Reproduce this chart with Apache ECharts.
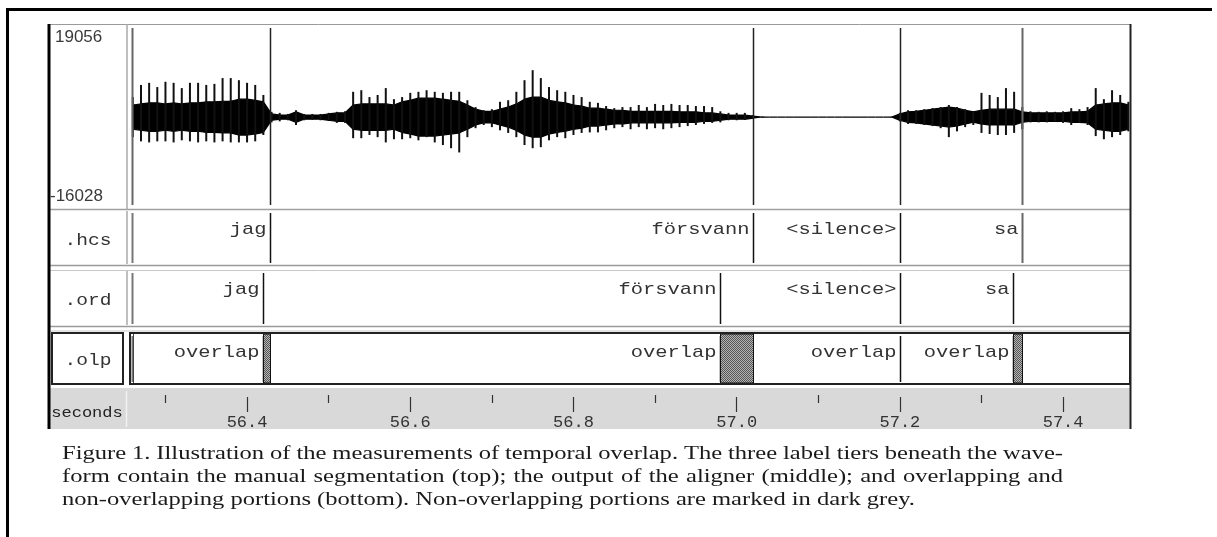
<!DOCTYPE html>
<html><head><meta charset="utf-8">
<script src="https://cdn.jsdelivr.net/npm/echarts@6/dist/echarts.min.js"></script>
<style>html,body{margin:0;padding:0;background:#fff}#c{width:1217px;height:537px}</style>
</head><body><div id="c"></div>
<script>
// ================= DATA =================
const T_MIN = 56.259, T_MAX = 57.482;          // visible time range (s)
const AMP_MAX = 19056, AMP_MIN = -16028;        // amplitude range of waveform pane
const ampLabels = ['19056', '-16028'];
const BASELINE = 1400;                          // waveform centre line (DC offset)
const SAMPLE_START = 56.26, SAMPLE_STEP = 0.01; // envelope sampling grid (s)

// positive peak excursion above baseline
const peakUp = [3800,6100,6500,5700,6700,6500,5500,6500,6500,6100,
  6300,7400,7400,7000,6500,6100,4200,1000,800,600,
  1300,600,600,600,800,1000,1100,4800,5100,3800,
  4200,5500,3400,3800,4600,4800,5100,4800,4600,4800,
  4800,3200,1900,1300,1500,2900,3200,4800,7000,8900,
  7400,5700,5100,4800,4200,3800,2900,2700,2100,1700,
  1900,1900,2300,1900,2500,2300,2500,2300,2300,2100,
  2100,1900,1100,800,800,800,400,
  0,0,0,0,0,0,0,0,0,0,0,0,0,0,0,0,0,
  800,1300,1300,1500,1700,1900,2300,1900,1500,1100,
  4600,4200,3800,5500,4800,1900,1100,1000,1100,1000,
  1100,1700,1500,1900,5500,3400,5100,4200,2900];
// negative peak excursion below baseline
const peakDown = [3800,4600,4800,4600,4600,4800,4400,4600,4800,4600,
  4800,4600,4800,4800,4800,4600,3400,1000,800,600,
  1500,600,400,600,600,1100,1100,4000,4000,3400,
  3800,4800,4200,4200,4000,4400,3800,4800,5300,5900,
  6700,3800,2100,1500,1900,2500,3000,3800,5300,5900,
  5700,4400,3800,4000,3400,3000,2900,2900,2500,2100,
  1900,2300,1900,2300,2100,2300,2100,1900,1700,1500,
  1300,1100,1000,600,600,400,200,
  0,0,0,0,0,0,0,0,0,0,0,0,0,0,0,0,0,
  800,1300,1300,1500,1700,2100,3800,2700,1900,1500,
  3000,3200,3400,3400,3000,2300,1000,1000,1000,800,
  1100,1500,1100,1500,3600,4200,3800,3400,2700];
// dense body half-amplitude
const bodyAmp = [2300,2500,2700,2700,2500,2700,2500,2700,2700,2900,
  2900,3000,3000,3400,3400,3200,2900,600,400,400,
  1000,400,400,400,600,800,800,2300,2500,2500,
  2500,2500,2300,2900,3200,3600,3600,3600,3400,3200,
  3000,2300,1500,1100,1100,1500,1900,2500,3400,3800,
  3800,3200,2900,2700,2300,2100,1700,1700,1500,1300,
  1300,1100,1100,1100,1100,1100,1100,1000,1000,1000,
  800,800,600,400,400,400,200,
  0,0,0,0,0,0,0,0,0,0,0,0,0,0,0,0,0,
  600,1000,1100,1300,1500,1700,1900,1700,1300,1000,
  1300,1500,1500,1500,1500,1000,800,800,800,800,
  800,1000,1000,1100,2300,2500,2700,2700,2300];

// segment boundaries (s)
const waveMarks = [56.259, 56.428, 57.020, 57.200, 57.350];
const tierNames = ['.hcs', '.ord', '.olp'];
const hcsLabels = ['jag', 'försvann', '<silence>', 'sa'];
const hcsStarts = [56.259, 56.428, 57.020, 57.200];
const hcsEnds   = [56.428, 57.020, 57.200, 57.350];
const ordLabels = ['jag', 'försvann', '<silence>', 'sa'];
const ordStarts = [56.259, 56.420, 56.980, 57.200];
const ordEnds   = [56.420, 56.980, 57.200, 57.339];
const olpLabels = ['overlap', 'overlap', 'overlap', 'overlap'];
const olpStarts = [56.259, 56.428, 57.020, 57.200];
const olpEnds   = [56.420, 56.980, 57.200, 57.339];
const gapStarts = [56.420, 56.980, 57.339];     // non-overlapping portions
const gapEnds   = [56.428, 57.020, 57.350];

const majorTicks = [56.4, 56.6, 56.8, 57.0, 57.2, 57.4];
const tickLabels = ['56.4', '56.6', '56.8', '57.0', '57.2', '57.4'];
const minorTicks = [56.3, 56.5, 56.7, 56.9, 57.1, 57.3];
const axisName = 'seconds';

const captionLines = [
  'Figure 1. Illustration of the measurements of temporal overlap. The three label tiers beneath the wave-',
  'form contain the manual segmentation (top); the output of the aligner (middle); and overlapping and',
  'non-overlapping portions (bottom). Non-overlapping portions are marked in dark grey.'
];

// ================= CHART =================
const chart = echarts.init(document.getElementById('c'), null, {renderer: 'canvas', width: 1217, height: 537});
const MONO = '"Liberation Mono", "DejaVu Sans Mono", monospace';
const SERIF = '"Liberation Serif", "DejaVu Serif", serif';

// dither pattern for grey boxes
const pat = document.createElement('canvas');
pat.width = 2; pat.height = 2;
(function () {
  const c = pat.getContext('2d');
  c.fillStyle = '#b4b4b4'; c.fillRect(0, 0, 2, 2);
  c.fillStyle = '#555'; c.fillRect(0, 0, 1, 1); c.fillRect(1, 1, 1, 1);
})();

const waveData = peakUp.map((u, i) => [SAMPLE_START + i * SAMPLE_STEP, BASELINE + u, BASELINE - peakDown[i], BASELINE + bodyAmp[i], BASELINE - bodyAmp[i]]);

const grids = [
  {left: 132, top: 24, width: 998, height: 185},
  {left: 132, top: 210, width: 998, height: 55},
  {left: 132, top: 270, width: 998, height: 56},
  {left: 132, top: 333, width: 998, height: 51},
  {left: 132, top: 397, width: 998, height: 32},
  {left: 132, top: 395, width: 998, height: 34}
];

const xAxes = grids.slice(0, 4).map((g, k) => ({gridIndex: k, type: 'value', min: T_MIN, max: T_MAX, show: false}));
xAxes.push({
  gridIndex: 4, type: 'value', min: T_MIN, max: T_MAX, position: 'top',
  axisLine: {show: false, onZero: false}, splitLine: {show: false},
  axisTick: {show: true, inside: true, length: 15, customValues: majorTicks, lineStyle: {color: '#333', width: 1.2}},
  axisLabel: {show: true, inside: true, margin: 17, customValues: majorTicks,
    formatter: v => tickLabels[majorTicks.findIndex(m => Math.abs(m - v) < 1e-6)],
    fontFamily: MONO, fontSize: 17, color: '#333', verticalAlign: 'top'}
});
xAxes.push({
  gridIndex: 5, type: 'value', min: T_MIN, max: T_MAX, position: 'top',
  axisLine: {show: false, onZero: false}, splitLine: {show: false}, axisLabel: {show: false},
  axisTick: {show: true, inside: true, length: 8, customValues: minorTicks, lineStyle: {color: '#333', width: 1.2}}
});
const yAxes = grids.map((g, k) => k === 0
  ? {gridIndex: 0, type: 'value', min: AMP_MIN, max: AMP_MAX, show: false}
  : {gridIndex: k, type: 'value', min: 0, max: 1, show: false});

function waveRender(params, api) {
  const i = params.dataIndex;
  const t = api.value(0);
  const ch = [];
  if (i < waveData.length - 1) {
    const n = waveData[i + 1];
    ch.push({type: 'polygon', shape: {points: [
      api.coord([t, api.value(3)]), api.coord([n[0], n[3]]),
      api.coord([n[0], n[4]]), api.coord([t, api.value(4)])]},
      style: {fill: '#000', stroke: '#000', lineWidth: 1.2}});
  }
  const a = api.coord([t, api.value(1)]), b = api.coord([t, api.value(2)]);
  ch.push({type: 'line', shape: {x1: a[0], y1: a[1], x2: b[0], y2: b[1]}, style: {stroke: '#111', lineWidth: 2}});
  return {type: 'group', children: ch};
}

function markRender(params, api) {
  const cs = params.coordSys;
  const x = Math.round(api.coord([api.value(0), 0])[0]) + 0.5;
  const last = params.dataIndex === 0 || params.dataIndex === waveMarks.length - 1;
  return {type: 'line', shape: {x1: x, y1: cs.y + 4, x2: x, y2: cs.y + cs.height - 4},
    style: {stroke: last ? '#666' : '#222', lineWidth: last ? 2 : 1.5}};
}

function tierRender(labels, greyLast) {
  return function (params, api) {
    const cs = params.coordSys;
    const i = params.dataIndex;
    const x0 = Math.round(api.coord([api.value(0), 0.5])[0]) + 0.5;
    const x1 = Math.round(api.coord([api.value(1), 0.5])[0]) + 0.5;
    const ch = [];
    if (i === 0) ch.push({type: 'line', shape: {x1: x0, y1: cs.y + 3, x2: x0, y2: cs.y + cs.height - 2}, style: {stroke: '#777', lineWidth: 2}});
    const g = greyLast && i === labels.length - 1;
    ch.push({type: 'line', shape: {x1: x1, y1: cs.y + 3, x2: x1, y2: cs.y + cs.height - 2}, style: {stroke: g ? '#666' : '#111', lineWidth: g ? 2 : 1.5}});
    ch.push({type: 'text', x: x1 - 4, y: cs.y + 19, scaleX: 1.2,
      style: {text: labels[i], font: '17px ' + MONO, fill: '#333', align: 'right', verticalAlign: 'middle'}});
    return {type: 'group', children: ch};
  };
}

function gapRender(params, api) {
  const cs = params.coordSys;
  const x0 = Math.round(api.coord([api.value(0), 0.5])[0]);
  const x1 = Math.round(api.coord([api.value(1), 0.5])[0]);
  return {type: 'rect', shape: {x: x0 + 0.5, y: cs.y + 1, width: x1 - x0, height: cs.height - 2},
    style: {fill: {image: pat, repeat: 'repeat'}, stroke: '#111', lineWidth: 1}};
}

const series = [
  {type: 'custom', xAxisIndex: 0, yAxisIndex: 0, clip: false, renderItem: waveRender,
    data: waveData, encode: {x: 0, y: [1, 2]}, silent: true},
  {type: 'custom', xAxisIndex: 0, yAxisIndex: 0, clip: false, renderItem: markRender,
    data: waveMarks.map(t => [t, 0]), encode: {x: 0, y: 1}, silent: true},
  {type: 'custom', xAxisIndex: 1, yAxisIndex: 1, clip: false, renderItem: tierRender(hcsLabels, true),
    data: hcsStarts.map((s, i) => [s, hcsEnds[i], 0.5]), encode: {x: [0, 1], y: 2}, silent: true},
  {type: 'custom', xAxisIndex: 2, yAxisIndex: 2, clip: false, renderItem: tierRender(ordLabels, false),
    data: ordStarts.map((s, i) => [s, ordEnds[i], 0.5]), encode: {x: [0, 1], y: 2}, silent: true},
  {type: 'custom', xAxisIndex: 3, yAxisIndex: 3, clip: false, renderItem: tierRender(olpLabels, false),
    data: olpStarts.map((s, i) => [s, olpEnds[i], 0.5]), encode: {x: [0, 1], y: 2}, silent: true, z: 3},
  {type: 'custom', xAxisIndex: 3, yAxisIndex: 3, clip: false, renderItem: gapRender,
    data: gapStarts.map((s, i) => [s, gapEnds[i], 0.5]), encode: {x: [0, 1], y: 2}, silent: true, z: 4}
];

// ---------- static frame + texts ----------
const graphic = [];
const L = (x1, y1, x2, y2, color, w, z) => graphic.push({type: 'line', z: z || 0, silent: true,
  shape: {x1, y1, x2, y2}, style: {stroke: color, lineWidth: w}});
// seconds strip background
graphic.push({type: 'rect', z: -10, silent: true, shape: {x: 48, y: 388, width: 1082, height: 41}, style: {fill: '#d9d9d9'}});
// outer figure frame
L(6, 9.5, 1212, 9.5, '#000', 3);
L(7.5, 8, 7.5, 537, '#000', 3);
// panel borders
L(48, 24.5, 1130, 24.5, '#9a9a9a', 1);
L(48, 209.5, 1130, 209.5, '#a0a0a0', 1.5);
L(48, 265.5, 1130, 265.5, '#9a9a9a', 1.5);
L(48, 270.5, 1130, 270.5, '#c8c8c8', 1);
L(48, 326.5, 1130, 326.5, '#9a9a9a', 1.5);
L(48, 331, 1130, 331, '#c8c8c8', 1);
L(127, 24, 127, 209, '#aaa', 1.5);
L(127, 211, 127, 264, '#aaa', 1.5);
L(127, 271, 127, 325, '#aaa', 1.5);
L(126.5, 391, 126.5, 427, '#f2f2f2', 1.5);
// olp boxes
graphic.push({type: 'rect', z: 5, silent: true, shape: {x: 52, y: 333, width: 71, height: 51}, style: {fill: null, stroke: '#222', lineWidth: 2}});
graphic.push({type: 'rect', z: 5, silent: true, shape: {x: 130, y: 333, width: 1000, height: 51}, style: {fill: null, stroke: '#222', lineWidth: 2}});
L(133.5, 334, 133.5, 383, '#444', 1, 5);
// thick left / right panel borders
L(49, 24, 49, 429, '#000', 3, 6);
L(1130.5, 24, 1130.5, 429, '#222', 2, 6);
// amplitude labels
graphic.push({type: 'text', silent: true, x: 55, y: 37, style: {text: ampLabels[0], font: '17px "Liberation Sans", Arial, sans-serif', fill: '#3a3a3a', verticalAlign: 'middle'}});
graphic.push({type: 'text', silent: true, x: 50, y: 196, style: {text: ampLabels[1], font: '17px "Liberation Sans", Arial, sans-serif', fill: '#3a3a3a', verticalAlign: 'middle'}});
// tier names
[240, 300, 360].forEach((y, k) => graphic.push({type: 'text', silent: true, z: 6, x: 88, y: y, scaleX: 1.15, originX: 0,
  style: {text: tierNames[k], font: '17px ' + MONO, fill: '#333', align: 'center', verticalAlign: 'middle'}}));
graphic.push({type: 'text', silent: true, z: 6, x: 87, y: 413, scaleX: 1.22,
  style: {text: axisName, font: '14px ' + MONO, fill: '#222', align: 'center', verticalAlign: 'middle'}});

// caption, justified
(function () {
  const ctx = document.createElement('canvas').getContext('2d');
  const FS = 19.5;
  ctx.font = FS + 'px "Liberation Serif"';
  const sx = 853 / ctx.measureText(captionLines[2]).width;
  const left = 62, right = 1063;
  const baselines = [461, 484, 507];
  captionLines.forEach((line, j) => {
    const words = line.split(' ');
    const ws = words.map(w => ctx.measureText(w).width * sx);
    const total = ws.reduce((a, b) => a + b, 0);
    const gap = j < 2 ? (right - left - total) / (words.length - 1) : ctx.measureText(' ').width * sx;
    let x = left;
    words.forEach((w, k) => {
      graphic.push({type: 'text', silent: true, x: x, y: baselines[j] - 0.34 * FS, scaleX: sx,
        style: {text: w, font: FS + 'px ' + SERIF, fill: '#1a1a1a', verticalAlign: 'middle'}});
      x += ws[k] + gap;
    });
  });
})();

chart.setOption({
  backgroundColor: '#fff',
  animation: false,
  grid: grids,
  xAxis: xAxes,
  yAxis: yAxes,
  series: series,
  graphic: graphic
});
</script>
</body></html>
